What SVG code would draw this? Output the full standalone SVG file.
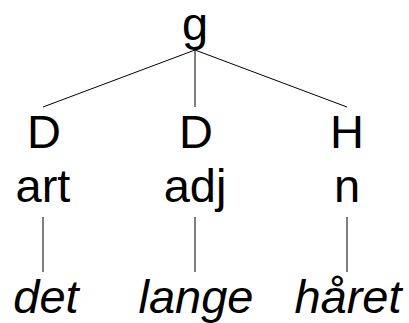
<svg xmlns="http://www.w3.org/2000/svg" width="409" height="323" viewBox="0 0 409 323">
<style>
text{font-family:"Liberation Sans",Arial,sans-serif;font-size:47px;fill:#000;text-anchor:middle}
.w{font-style:italic}
line{stroke:#000;stroke-width:1}
</style>
<rect width="409" height="323" fill="#fff"/>
<g id="connectors">
<line x1="195" y1="50" x2="43" y2="107"/>
<line x1="195" y1="50" x2="195" y2="107"/>
<line x1="195" y1="50" x2="347" y2="107"/>
<line x1="43" y1="217" x2="43" y2="272"/>
<line x1="195" y1="217" x2="195" y2="272"/>
<line x1="347" y1="217" x2="347" y2="272"/>
</g>
<g id="n-g"><text x="195" y="40">g</text></g>
<g id="n-D1"><text x="44" y="148">D</text><text x="43" y="202">art</text></g>
<g id="n-D2"><text x="196" y="148">D</text><text x="195" y="202">adj</text></g>
<g id="n-H"><text x="347" y="148">H</text><text x="347" y="202">n</text></g>
<g id="w-det"><text class="w" x="46" y="313">det</text></g>
<g id="w-lange"><text class="w" x="196" y="313">lange</text></g>
<g id="w-haret"><text class="w" x="348" y="313">håret</text></g>
</svg>
